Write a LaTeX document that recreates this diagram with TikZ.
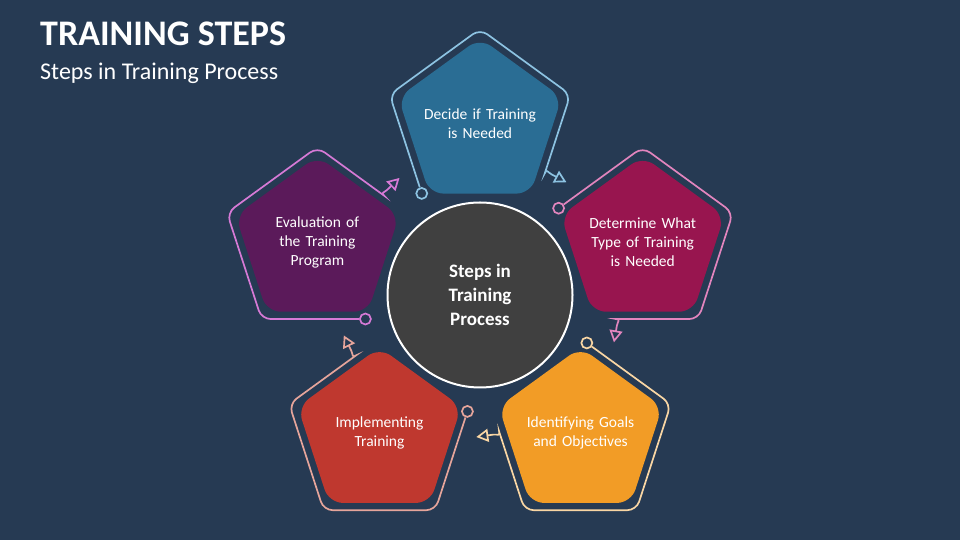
\documentclass[tikz,border=0pt]{standalone}
\usepackage{fontspec}
\setmainfont{Carlito}
\usetikzlibrary{calc,arrows.meta,shapes.geometric}
\definecolor{bg}{HTML}{263A53}
\definecolor{cBlue}{HTML}{2A6D94}
\definecolor{lBlue}{HTML}{8DC3E2}
\definecolor{cMag}{HTML}{98154F}
\definecolor{lMag}{HTML}{E285BE}
\definecolor{cOrg}{HTML}{F29C26}
\definecolor{lOrg}{HTML}{F9D6A4}
\definecolor{cRed}{HTML}{BF382F}
\definecolor{lRed}{HTML}{E6A59B}
\definecolor{cPur}{HTML}{5B1A5A}
\definecolor{lPur}{HTML}{D67AD6}
\definecolor{cHub}{HTML}{404040}
\tikzset {>=Stealth,
  pent/.style={regular polygon,regular polygon sides=5,minimum size=172pt,
    inner sep=0pt,rounded corners=14pt},
  steptext/.style={text=white,align=center,text width=130pt,
    font=\fontsize{15.5}{19}\selectfont},
  ring/.style={line width=1.7pt,rounded corners=9pt},
  ringdot/.style={circle,draw,line width=1.7pt,minimum size=11pt,inner sep=0pt}}

\begin{document}
\begin{tikzpicture}[x=1pt,y=1pt]
\fill[bg] (0,0) rectangle (960,540);
\node[anchor=base west,inner sep=0pt,text=white,
  font=\fontsize{36}{40}\selectfont\bfseries] (title) at (40,494) {TRAINING STEPS};
\node[anchor=base west,inner sep=0pt,text=white,
  font=\fontsize{24}{28}\selectfont] (sub) at (40,460) {Steps in Training Process};
\coordinate (C) at (480,245);
\foreach \k/\fc/\lc/\txt in {0/cBlue/lBlue/{Decide if Training\\is Needed},
    1/cMag/lMag/{Determine What\\Type of Training\\is Needed},
    2/cOrg/lOrg/{Identifying Goals\\and Objectives},
    3/cRed/lRed/{Implementing\\Training},
    4/cPur/lPur/{Evaluation of\\the Training\\Program}}{
  \pgfmathsetmacro\th{90-72*\k}
  \node[pent,fill=\fc] (s\k) at ($(C)+(\th:171)$) {};
  \node[steptext] (t\k) at (s\k) {\txt};
  \foreach \j in {0,...,4}
    \coordinate (v\k-\j) at ($(s\k)+(\th+144-72*\j:95)$);
  \node[ringdot,draw=\lc] (d\k) at ($(v\k-0)!0.07!(v\k-1)$) {};
  \draw[ring,draw=\lc,-{Triangle[open,length=12pt,width=13pt]}]
    (d\k) -- (v\k-1) -- (v\k-2) -- (v\k-3) -- ($(v\k-3)!0.66!(v\k-4)$)
    [sharp corners] arc[start angle=\th+72,delta angle=80,radius=8]
    -- ++(\th+242:17);
}
\node[circle,fill=cHub,draw=white,line width=2pt,minimum size=185pt,
  inner sep=0pt,text=white,align=center,
  font=\fontsize{19}{24}\selectfont\bfseries] (hub) at (C)
  {Steps in\\Training\\Process};
\end{tikzpicture}
\end{document}
